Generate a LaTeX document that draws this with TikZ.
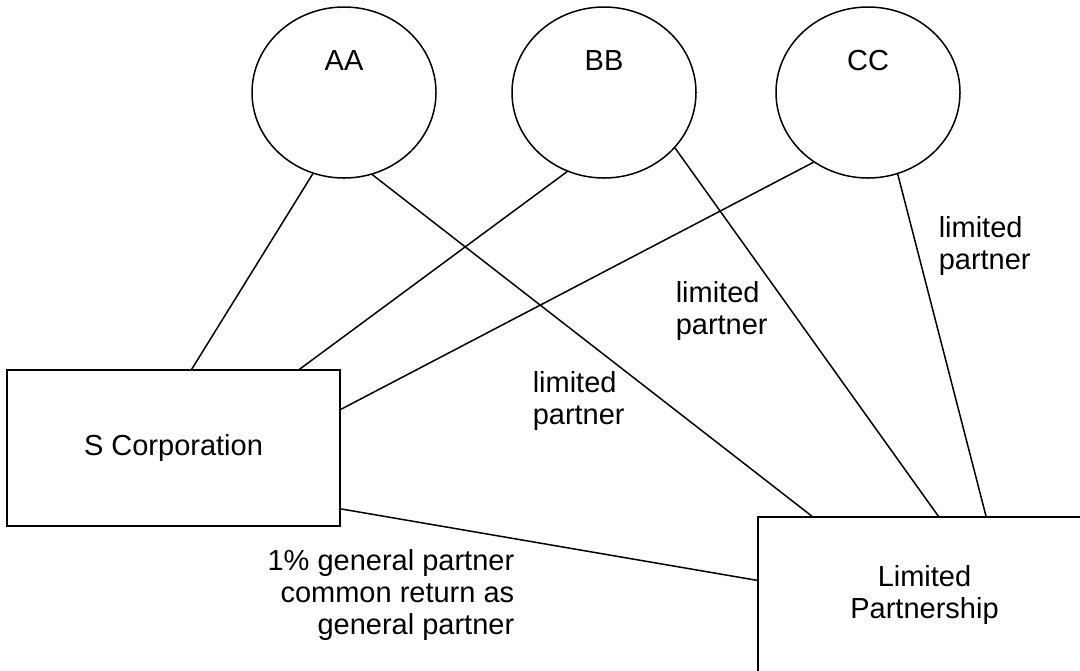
\documentclass[tikz,border=0pt]{standalone}
\usepackage{fontspec}
\setmainfont{Liberation Sans}
\usetikzlibrary{shapes.geometric, positioning}

\begin{document}
\begin{tikzpicture}[x=0.5pt, y=-0.5pt, line width=0.75pt,
  owner/.style={draw, ellipse, minimum width=92pt, minimum height=85.5pt, inner sep=0pt},
  entity/.style={draw, rectangle, minimum width=166.5pt, minimum height=78pt, inner sep=0pt, align=center},
  tag/.style={inner sep=0pt, font=\fontsize{14.5}{16}\selectfont}]
\useasboundingbox (0,0) rectangle (1080,670);

% Draw the three owners
\node[owner] (AA) at (344,92.5) {};
\node[owner] (BB) at (604,92.5) {};
\node[owner] (CC) at (868,92.5) {};
\node[tag] (AAname) at ([yshift=16pt]AA.center) {AA};
\node[tag] (BBname) at ([yshift=16pt]BB.center) {BB};
\node[tag] (CCname) at ([yshift=16pt]CC.center) {CC};

% Draw the two entities
\node[entity, tag] (SC) at (173.5,448) {S Corporation};
\node[entity, tag] (LP) at (924.5,595) {Limited\\Partnership};

% Draw the ownership lines
\draw (AA.249) -- (SC.77);
\draw (BB.245) -- (SC.32);
\draw (CC.232) -- (SC.13.5);
\draw (AA.289) -- (LP.145.7);
\draw (BB.322) -- (LP.80.2);
\draw (CC.290) -- (LP.52.2);
\draw (SC.340.8) -- (LP.175.5);

% Labels of the lines
\node[tag, align=left, anchor=west] (lpAA) at (532,401) {limited\\partner};
\node[tag, align=left, anchor=west] (lpBB) at (675,311) {limited\\partner};
\node[tag, align=left, anchor=west] (lpCC) at (938,246) {limited\\partner};
\node[tag, align=right, anchor=east] (gpSC) at (515,595) {1\% general partner\\common return as\\general partner};

\end{tikzpicture}
\end{document}
